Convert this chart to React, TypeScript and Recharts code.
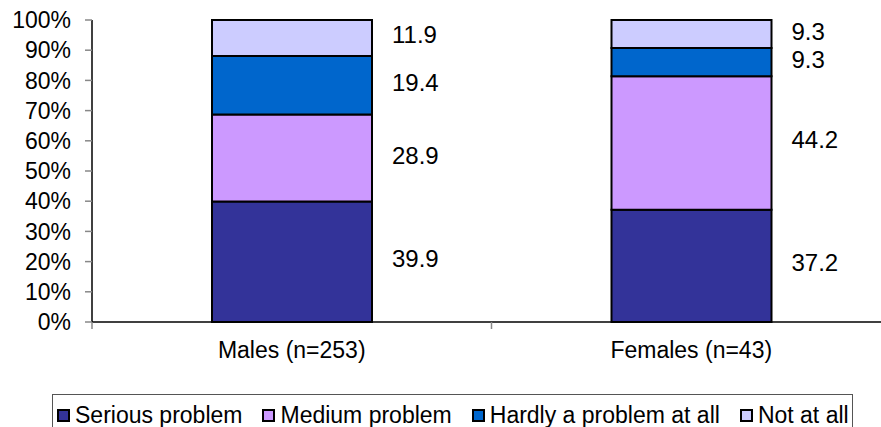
import { Bar, BarChart, LabelList, Legend, XAxis, YAxis } from "recharts";

const categories = ["Males (n=253)", "Females (n=43)"];
const serious = [39.9, 37.2];
const medium = [28.9, 44.2];
const hardly = [19.4, 9.3];
const notAtAll = [11.9, 9.3];
const yTicks = [0, 10, 20, 30, 40, 50, 60, 70, 80, 90, 100];

const series = [
  { key: "serious", name: "Serious problem", color: "#333399" },
  { key: "medium", name: "Medium problem", color: "#CC99FF" },
  { key: "hardly", name: "Hardly a problem at all", color: "#0066CC" },
  { key: "notAtAll", name: "Not at all", color: "#CCCCFF" },
];

const FONT = "'Liberation Sans', Arial, sans-serif";
const CHART_W = 891;
const CHART_H = 440;
const AXIS_W = 92;
const PLOT_BOTTOM = 322;
const HALF_BAND = (CHART_W - AXIS_W) / categories.length / 2;

const data = categories.map((name, i) => ({
  name,
  serious: serious[i],
  medium: medium[i],
  hardly: hardly[i],
  notAtAll: notAtAll[i],
}));

function ValueLabel(props: any) {
  const { x, y, width, height, value } = props;
  return (
    <text
      x={Number(x) + Number(width) + 20}
      y={Number(y) + Number(height) / 2 - 3}
      dominantBaseline="central"
      fontSize={24}
      fontFamily={FONT}
      fill="#000"
    >
      {value}
    </text>
  );
}

function CategoryTick(props: any) {
  const { x, y, payload } = props;
  const bx = x - HALF_BAND;
  return (
    <g>
      <line x1={bx} y1={PLOT_BOTTOM} x2={bx} y2={PLOT_BOTTOM + 7} stroke="#888" strokeWidth={1.5} />
      <text x={x} y={y} dy={27} textAnchor="middle" fontSize={23} fontFamily={FONT} fill="#000">
        {payload.value}
      </text>
    </g>
  );
}

function LegendBox() {
  return (
    <div
      style={{
        display: "flex",
        alignItems: "center",
        border: "1px solid #555",
        padding: "7px 3px 12px 4px",
        fontFamily: FONT,
        fontSize: 23,
        lineHeight: "26px",
        whiteSpace: "nowrap",
        background: "#fff",
      }}
    >
      {series.map((s, i) => (
        <div key={s.key} style={{ display: "flex", alignItems: "center", marginRight: i < series.length - 1 ? 20 : 0 }}>
          <span
            style={{
              display: "inline-block",
              width: 13,
              height: 13,
              boxSizing: "border-box",
              border: "2px solid #000",
              background: s.color,
              marginRight: 5,
            }}
          />
          <span>{s.name}</span>
        </div>
      ))}
    </div>
  );
}

export default function App() {
  return (
    <div style={{ position: "absolute", left: 0, top: 0, width: 881, height: 427, overflow: "hidden", background: "#fff" }}>
      <BarChart
        width={CHART_W}
        height={CHART_H}
        data={data}
        stackOffset="expand"
        margin={{ top: 20, right: 0, left: 0, bottom: CHART_H - PLOT_BOTTOM - 40 }}
      >
        <XAxis
          dataKey="name"
          height={40}
          tick={<CategoryTick />}
          tickLine={false}
          tickSize={7}
          tickMargin={2}
          axisLine={{ stroke: "#000", strokeWidth: 1.5 }}
          interval={0}
        />
        <YAxis
          width={AXIS_W}
          domain={[0, 1]}
          ticks={yTicks.map((t) => t / 100)}
          tickFormatter={(v) => `${Math.round(v * 100)}%`}
          tickSize={7}
          tickMargin={14}
          tickLine={{ stroke: "#888", strokeWidth: 1.5 }}
          axisLine={{ stroke: "#000", strokeWidth: 1.5 }}
          tick={{ fill: "#000", fontSize: 23, fontFamily: FONT }}
          interval={0}
        />
        <Legend
          layout="horizontal"
          verticalAlign="middle"
          align="center"
          content={<LegendBox />}
          wrapperStyle={{ left: 52, top: 394, width: "auto" }}
        />
        {series.map((s) => (
          <Bar
            key={s.key}
            dataKey={s.key}
            name={s.name}
            stackId="a"
            fill={s.color}
            stroke="#000"
            strokeWidth={2}
            barSize={160}
            isAnimationActive={false}
          >
            <LabelList dataKey={s.key} content={<ValueLabel />} />
          </Bar>
        ))}
      </BarChart>
    </div>
  );
}
